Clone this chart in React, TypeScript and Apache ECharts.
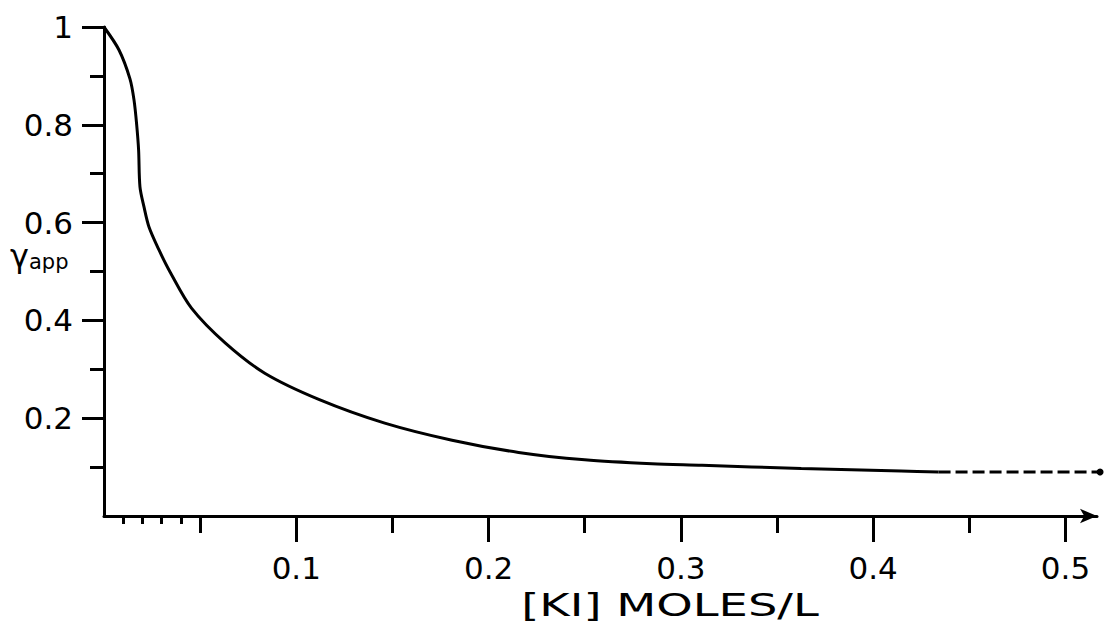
import React, { useEffect, useRef } from "react";
import * as echarts from "echarts";

// [KI] (moles/L) and apparent activity coefficient, solid part of the curve
const kiConc = [
  0, 0.0078, 0.0135, 0.0156, 0.017, 0.018, 0.0187, 0.0208, 0.0234, 0.0286,
  0.0345, 0.0455, 0.063, 0.0836, 0.112, 0.146, 0.181, 0.2156, 0.25, 0.285,
  0.311, 0.3626, 0.4145, 0.434,
];
const gammaApp = [
  1.0, 0.953, 0.894, 0.851, 0.8, 0.748, 0.673, 0.632, 0.591, 0.544, 0.498,
  0.425, 0.354, 0.292, 0.238, 0.19, 0.155, 0.13, 0.115, 0.107, 0.104, 0.097,
  0.092, 0.09,
];
// dashed extrapolation
const dashedKi = [0.434, 0.518];
const dashedGamma = [0.09, 0.09];

const X_MAX = 0.5164;
const xMajorTicks = [0.1, 0.2, 0.3, 0.4, 0.5];
const xMidTicks = [0.05, 0.15, 0.25, 0.35, 0.45];
const xSmallTicks = [0.01, 0.02, 0.03, 0.04];
const yMajorTicks = [0.2, 0.4, 0.6, 0.8, 1];
const yMinorTicks = [0.1, 0.3, 0.5, 0.7, 0.9];
const xAxisTitle = "[KI] MOLES/L";

const FONT = "DejaVu Sans";
const INK = "#000";

export default function App() {
  const ref = useRef<HTMLDivElement>(null);

  useEffect(() => {
    if (!ref.current) return;
    const chart = echarts.init(ref.current, null, { renderer: "svg" });

    const baseX = (ticks: number[], len: number, showLine: boolean, labels: boolean) => ({
      type: "value",
      position: "bottom",
      min: 0,
      max: X_MAX,
      splitLine: { show: false },
      axisLine: {
        show: showLine,
        onZero: false,
        symbol: ["none", "arrow"],
        symbolSize: [11, 17],
        lineStyle: { color: INK, width: 3 },
      },
      axisTick: {
        show: true,
        inside: false,
        customValues: ticks,
        length: len,
        lineStyle: { color: INK, width: 3 },
      },
      axisLabel: labels
        ? {
            show: true,
            customValues: ticks,
            margin: 36,
            fontSize: 31,
            fontFamily: FONT,
            color: INK,
            formatter: (v: number) => v.toFixed(1),
          }
        : { show: false },
    });

    const baseY = (ticks: number[], len: number, showLine: boolean, labels: boolean) => ({
      type: "value",
      position: "left",
      min: 0,
      max: 1,
      splitLine: { show: false },
      axisLine: {
        show: showLine,
        onZero: false,
        lineStyle: { color: INK, width: 3 },
      },
      axisTick: {
        show: true,
        inside: false,
        customValues: ticks,
        length: len,
        lineStyle: { color: INK, width: 3 },
      },
      axisLabel: labels
        ? {
            show: true,
            customValues: ticks,
            margin: 31,
            fontSize: 31,
            fontFamily: FONT,
            color: INK,
            formatter: (v: number) => (v === 1 ? "1" : v.toFixed(1)),
          }
        : { show: false },
    });

    const solid = kiConc.map((x, i) => [x, gammaApp[i]]);
    const dashed = dashedKi.map((x, i) =>
      i === dashedKi.length - 1
        ? { value: [x, dashedGamma[i]], symbol: "circle", symbolSize: 7 }
        : { value: [x, dashedGamma[i]], symbol: "none" }
    );

    chart.setOption({
      animation: false,
      backgroundColor: "#fff",
      grid: {
        left: 104,
        right: 9,
        top: 27,
        bottom: 107,
        containLabel: false,
        outerBoundsMode: "none",
      },
      xAxis: [
        baseX(xMajorTicks, 26, true, true),
        baseX(xMidTicks, 17, false, false),
        baseX(xSmallTicks, 8, false, false),
      ],
      yAxis: [
        baseY(yMajorTicks, 22, true, true),
        baseY(yMinorTicks, 14, false, false),
      ],
      series: [
        {
          type: "line",
          data: solid,
          xAxisIndex: 0,
          yAxisIndex: 0,
          symbol: "none",
          smooth: 0.3,
          lineStyle: { color: INK, width: 3 },
        },
        {
          type: "line",
          data: dashed,
          xAxisIndex: 0,
          yAxisIndex: 0,
          showSymbol: true,
          symbol: "none",
          clip: false,
          itemStyle: { color: INK },
          lineStyle: { color: INK, width: 3, type: [12, 5] },
        },
      ],
      graphic: [
        {
          type: "text",
          x: 670,
          y: 605,
          scaleX: 1.45,
          style: {
            text: xAxisTitle,
            fontSize: 32,
            fontFamily: FONT,
            fill: INK,
            align: "center",
            verticalAlign: "middle",
          },
        },
        {
          type: "text",
          x: 10,
          y: 238,
          style: {
            text: "{g|γ}{s|app}",
            fontFamily: FONT,
            fill: INK,
            rich: {
              g: { fontSize: 32, fontFamily: FONT, fill: INK, lineHeight: 34, verticalAlign: "bottom" },
              s: { fontSize: 21, fontFamily: FONT, fill: INK, lineHeight: 34, verticalAlign: "bottom", padding: [14, 0, 0, 0] },
            },
          },
        },
      ],
    });

    return () => chart.dispose();
  }, []);

  return (
    <div
      ref={ref}
      style={{ position: "absolute", left: 0, top: 0, width: 1106, height: 623 }}
    />
  );
}
